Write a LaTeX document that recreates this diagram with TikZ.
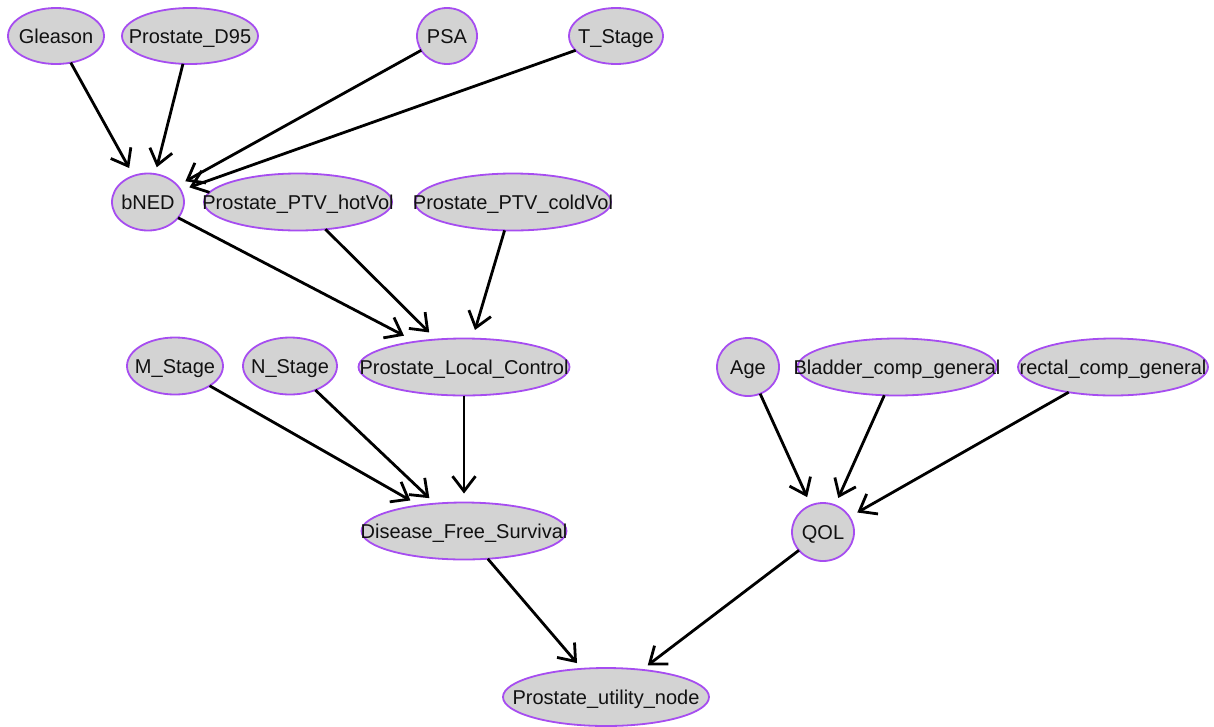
\documentclass[tikz,border=0pt]{standalone}
\usepackage{fontspec}
\setmainfont{Liberation Sans}
\usetikzlibrary{arrows.meta,shapes.geometric}
\definecolor{nodefill}{HTML}{D3D3D3}
\definecolor{nodeborder}{HTML}{A64DF0}
\definecolor{txt}{HTML}{111111}
\tikzset{
  bnnode/.style={ellipse, draw=nodeborder, fill=nodefill, line width=1.8pt,
    inner sep=0pt, outer sep=0pt, text height=14pt, text depth=0pt,
    text=txt, font=\fontsize{20pt}{22pt}\selectfont},
  edge/.style={draw=black, line width=2.8pt,
    -{Straight Barb[length=15pt,width=23pt,line width=2.8pt]}, shorten >=9pt}
}
\newcommand{\nl}[1]{\makebox[0pt]{#1}}
\begin{document}
\begin{tikzpicture}[x=1pt,y=-1pt]
\useasboundingbox (0,0) rectangle (1214,726);
\node[bnnode, minimum width=96pt, minimum height=56pt] (gleason) at (56,36) {\nl{Gleason}};
\node[bnnode, minimum width=136pt, minimum height=56pt] (d95) at (190,36) {\nl{Prostate\_D95}};
\node[bnnode, minimum width=60pt, minimum height=56pt] (psa) at (447,36) {\nl{PSA}};
\node[bnnode, minimum width=94pt, minimum height=56pt] (tstage) at (616,36) {\nl{T\_Stage}};
\node[bnnode, minimum width=72pt, minimum height=57pt] (bned) at (148,202) {\nl{bNED}};
\node[bnnode, minimum width=188pt, minimum height=57pt] (hot) at (298,202) {\nl{Prostate\_PTV\_hotVol}};
\node[bnnode, minimum width=196pt, minimum height=57pt] (cold) at (513,202) {\nl{Prostate\_PTV\_coldVol}};
\node[bnnode, minimum width=96pt, minimum height=57pt] (mstage) at (175,366) {\nl{M\_Stage}};
\node[bnnode, minimum width=94pt, minimum height=57pt] (nstage) at (290,366) {\nl{N\_Stage}};
\node[bnnode, minimum width=211pt, minimum height=57pt] (plc) at (464,367) {\nl{Prostate\_Local\_Control}};
\node[bnnode, minimum width=62pt, minimum height=58pt] (age) at (748,367) {\nl{Age}};
\node[bnnode, minimum width=199pt, minimum height=57pt] (bladder) at (897,367) {\nl{Bladder\_comp\_general}};
\node[bnnode, minimum width=190pt, minimum height=57pt] (rectal) at (1113,367) {\nl{rectal\_comp\_general}};
\node[bnnode, minimum width=205pt, minimum height=57pt] (dfs) at (464,531) {\nl{Disease\_Free\_Survival}};
\node[bnnode, minimum width=62pt, minimum height=58pt] (qol) at (823,532) {\nl{QOL}};
\node[bnnode, minimum width=206pt, minimum height=58pt] (util) at (606,697) {\nl{Prostate\_utility\_node}};

\draw[edge] (gleason) -- (bned);
\draw[edge, shorten >=7pt] (d95) -- (bned);
\draw[edge] (psa) -- (bned);
\draw[edge] (tstage) -- (bned);
\draw[edge, shorten >=13pt] (bned) -- (plc);
\draw[edge, shorten >=10pt] (hot) -- (plc);
\draw[edge] (cold) -- (plc);
\draw[edge, shorten >=10pt] (mstage) -- (dfs);
\draw[edge, shorten >=8pt] (nstage) -- (dfs);
\draw[edge] (plc) -- (dfs);
\draw[edge] (age) -- (qol);
\draw[edge, shorten >=8pt] (bladder) -- (qol);
\draw[edge] (rectal) -- (qol);
\draw[edge, shorten >=7.5pt] (dfs) -- (util);
\draw[edge, shorten >=7.5pt] (qol) -- (util);
\end{tikzpicture}
\end{document}
